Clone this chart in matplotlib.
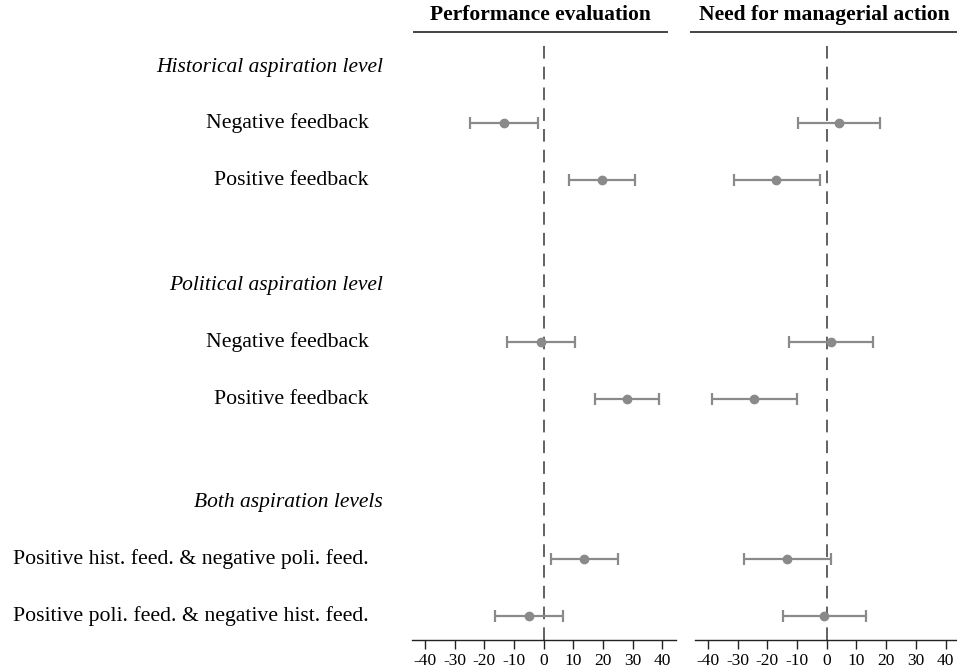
import matplotlib
matplotlib.use("Agg")
import matplotlib.pyplot as plt
from matplotlib.lines import Line2D
from matplotlib.transforms import blended_transform_factory

plt.rcParams['font.family'] = ['Liberation Serif', 'DejaVu Serif']

# Groups of conditions and their feedback rows
group_titles = ["Historical aspiration level",
                "Political aspiration level",
                "Both aspiration levels"]
row_labels = [
    ["Negative feedback", "Positive feedback"],
    ["Negative feedback", "Positive feedback"],
    ["Positive hist. feed. & negative poli. feed.",
     "Positive poli. feed. & negative hist. feed."],
]

panel_titles = ["Performance evaluation", "Need for managerial action"]

# Point estimates and 95% interval bounds per panel (row order as above)
perf_est = [-13.3, 19.7, -0.9, 28.0, 13.7, -5.0]
perf_lo = [-24.8, 8.5, -12.2, 17.4, 2.5, -16.5]
perf_hi = [-1.9, 30.9, 10.6, 38.9, 24.9, 6.6]

need_est = [4.0, -17.1, 1.3, -24.5, -13.3, -1.1]
need_lo = [-9.6, -31.3, -12.6, -38.6, -27.9, -14.7]
need_hi = [18.0, -2.3, 15.6, -10.0, 1.4, 13.1]

xticks = [-40, -30, -20, -10, 0, 10, 20, 30, 40]

# Vertical layout (in row units, top to bottom)
group_starts = [0.0, 3.84, 7.65]
header_pos = list(group_starts)
row_pos = [g + off for g in group_starts for off in (0.99, 1.99)]

W, H = 957, 672
fig = plt.figure(figsize=(W / 100, H / 100), dpi=100)

bottom = 1 - 639.6 / H
top = 1 - 40 / H
panel_lefts = [411.8 / W, 695.0 / W]
panel_width = 264.2 / W

err_color = "#8a8a8a"
axes = []
for left, est, lo, hi in zip(panel_lefts,
                             [perf_est, need_est],
                             [perf_lo, need_lo],
                             [perf_hi, need_hi]):
    ax = fig.add_axes([left, bottom, panel_width, top - bottom])
    ax.set_xlim(-44.4, 44.6)
    ax.set_ylim(10.05, -0.474)
    ax.axvline(0, color="#555555", lw=1.3, linestyle=(0, (7, 4.5)), zorder=1)
    xerr = [[e - l for e, l in zip(est, lo)], [h - e for e, h in zip(est, hi)]]
    ax.errorbar(est, row_pos, xerr=xerr, fmt="o", color=err_color,
                ecolor=err_color, elinewidth=1.6, capsize=4, capthick=1.6,
                markersize=6, zorder=3)
    for s in ("left", "right", "top"):
        ax.spines[s].set_visible(False)
    ax.spines["bottom"].set_color("#222222")
    ax.spines["bottom"].set_linewidth(1.0)
    ax.set_yticks([])
    ax.set_xticks(xticks)
    ax.set_xticklabels([str(t) for t in xticks])
    ax.tick_params(axis="x", direction="out", length=6.5, width=1.0,
                   color="#222222", labelsize=12.5, pad=3.5)
    axes.append(ax)

# Panel titles with underline rules
title_spans = [(414, 667), (691, 957)]
for (x0, x1), title in zip(title_spans, panel_titles):
    fig.text((x0 + x1) / 2 / W, 1 - 15 / H, title, ha="center", va="center",
             fontsize=15.5, fontweight="bold")
    fig.add_artist(Line2D([x0 / W, x1 / W], [1 - 32 / H, 1 - 32 / H],
                          transform=fig.transFigure, color="#444444", lw=1.4))

# Row labels on the left
trans = blended_transform_factory(fig.transFigure, axes[0].transData)
k = 0
for g, (title, labels) in enumerate(zip(group_titles, row_labels)):
    fig.text(383 / W, header_pos[g], title, transform=trans, ha="right",
             va="center", fontsize=15.5, style="italic")
    for lab in labels:
        fig.text(369 / W, row_pos[k], lab, transform=trans, ha="right",
                 va="center", fontsize=15.7)
        k += 1

fig.savefig("out.png", dpi=100)
